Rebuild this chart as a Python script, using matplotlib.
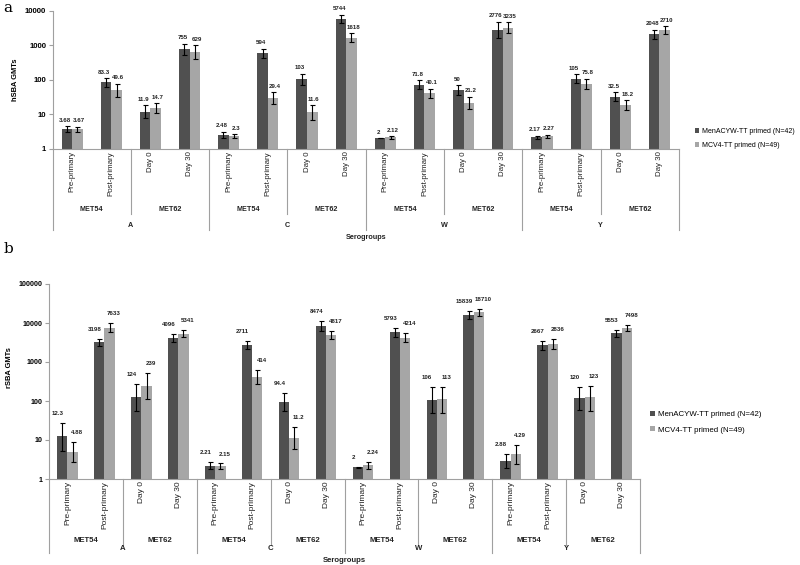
"""Two-panel bar chart of hSBA / rSBA GMTs by serogroup, study and timepoint."""

import matplotlib.pyplot as plt
import numpy as np
from matplotlib.patches import Patch
from matplotlib.ticker import NullLocator

plt.rcParams["font.family"] = ["Liberation Sans", "DejaVu Sans"]

SEROGROUPS = ["A", "C", "W", "Y"]
STUDIES = ["MET54", "MET62"]
TIMEPOINTS = ["Pre-primary", "Post-primary", "Day 0", "Day 30"]
LEGEND_LABELS = ["MenACYW-TT primed (N=42)", "MCV4-TT primed (N=49)"]

# order of each list: A pre, A post, A day0, A day30, C ..., W ..., Y ...
HSBA_MENACYW = [3.68, 83.3, 11.9, 755, 2.48, 594, 103, 5744, 2, 71.8, 50, 2776, 2.17, 105, 32.5, 2048]
HSBA_MENACYW_LO = [3.0, 62, 8, 520, 2.0, 440, 70, 4300, 2, 53, 37, 1600, 1.95, 78, 24, 1500]
HSBA_MENACYW_HI = [4.5, 110, 18, 1100, 3.1, 800, 150, 7700, 2, 97, 68, 4800, 2.4, 145, 43, 2800]
HSBA_MCV4 = [3.67, 49.6, 14.7, 629, 2.3, 29.4, 11.6, 1618, 2.12, 40.1, 21.2, 3235, 2.27, 75.8, 18.2, 2710]
HSBA_MCV4_LO = [3.1, 32, 10.5, 400, 2.1, 20, 7, 1200, 1.95, 29, 14, 2300, 2.1, 54, 13, 2100]
HSBA_MCV4_HI = [4.4, 76, 21, 990, 2.6, 43, 18, 2200, 2.3, 55, 32, 4600, 2.5, 105, 25, 3500]

RSBA_MENACYW = [12.3, 3198, 124, 4096, 2.21, 2711, 94.4, 8474, 2, 5793, 106, 15839, 2.88, 2667, 120, 5553]
RSBA_MENACYW_LO = [5.2, 2500, 55, 3200, 1.8, 2100, 55, 6300, 1.95, 4500, 50, 12500, 1.9, 2000, 60, 4500]
RSBA_MENACYW_HI = [28, 4000, 280, 5200, 2.7, 3500, 160, 11300, 2.05, 7500, 230, 20000, 4.4, 3500, 230, 6800]
RSBA_MCV4 = [4.88, 7633, 239, 5341, 2.15, 414, 11.2, 4817, 2.24, 4214, 113, 18710, 4.29, 2836, 123, 7498]
RSBA_MCV4_LO = [2.7, 5800, 110, 4300, 1.85, 280, 6, 3800, 1.8, 3200, 50, 15000, 2.4, 2100, 55, 6200]
RSBA_MCV4_HI = [8.8, 10000, 510, 6600, 2.5, 610, 21, 6100, 2.8, 5500, 230, 23500, 7.6, 3800, 240, 9000]

DARK = "#505050"
LIGHT = "#a6a6a6"
AXIS_GREY = "#a0a0a0"
TEXT = "#222222"
FIG_W, FIG_H = 800, 565


def _add_axes(fig, left, top, right, bottom):
    return fig.add_axes([left / FIG_W, 1 - bottom / FIG_H, (right - left) / FIG_W, (bottom - top) / FIG_H])


def draw_panel(ax, dark, dark_lo, dark_hi, light, light_lo, light_hi, ymax, ylabel, st):
    n = len(dark)
    x = np.arange(n)
    w = st["bar_w"]
    series = [
        (x - w / 2, dark, dark_lo, dark_hi, DARK, -st["nudge"]),
        (x + w / 2, light, light_lo, light_hi, LIGHT, st["nudge"]),
    ]
    for xs, vals, lo, hi, color, nudge in series:
        vals = np.asarray(vals, dtype=float)
        yerr = [vals - np.asarray(lo, dtype=float), np.asarray(hi, dtype=float) - vals]
        # log axis starts at 1, so bars are drawn from 1 up to the value
        ax.bar(xs, vals - 1, width=w, color=color, bottom=1, zorder=2)
        ax.errorbar(xs, vals, yerr=yerr, fmt="none", ecolor="black", elinewidth=0.8,
                    capsize=1.8, capthick=0.8, zorder=3)
        for xi, v, h in zip(xs, vals, hi):
            ax.annotate(f"{v:g}", xy=(xi, h), xytext=(nudge, st["label_off"]), textcoords="offset points",
                        ha="center", va="bottom", fontsize=st["val_fs"], fontweight="bold", color=TEXT)

    ax.set_yscale("log")
    ax.set_ylim(1, ymax)
    ticks = [10 ** k for k in range(int(np.log10(ymax)) + 1)]
    ax.set_yticks(ticks)
    ax.set_yticklabels([str(t) for t in ticks], fontsize=st["ytick_fs"], fontweight="bold")
    ax.yaxis.set_minor_locator(NullLocator())
    ax.tick_params(axis="y", length=3, width=0.8, color=AXIS_GREY, pad=1.5)
    ax.set_xlim(-0.5, n - 0.5)
    ax.set_xticks([])
    for side in ("top", "right"):
        ax.spines[side].set_visible(False)
    for side in ("left", "bottom"):
        ax.spines[side].set_color(AXIS_GREY)
        ax.spines[side].set_linewidth(0.8)
    ax.set_ylabel(ylabel, fontsize=st["ylab_fs"], fontweight="bold")
    ax.yaxis.set_label_coords(*st["ylab_xy"])

    h_px = st["h_px"]
    trans = ax.get_xaxis_transform()

    def frac(px):
        return -px / h_px

    # timepoint labels
    for i in range(n):
        ax.annotate(TIMEPOINTS[i % 4], xy=(i, 0), xycoords=("data", "axes fraction"),
                    xytext=(0, -st["tp_off"] * 0.72), textcoords="offset points",
                    rotation=90, ha="center", va="top", fontsize=st["tp_fs"], color=TEXT)
    # study labels and short separators
    for j in range(n // 2):
        ax.annotate(STUDIES[j % 2], xy=(2 * j + 0.5, 0), xycoords=("data", "axes fraction"),
                    xytext=(0, -st["study_off"] * 0.72), textcoords="offset points",
                    ha="center", va="center", fontsize=st["study_fs"], fontweight="bold", color=TEXT)
        if j % 2 == 1:
            xb = 2 * j - 0.5
            ax.plot([xb, xb], [0, frac(st["study_line"])], transform=trans, color=AXIS_GREY,
                    lw=0.8, clip_on=False)
    # serogroup labels and long separators
    for g, name in enumerate(SEROGROUPS):
        ax.annotate(name, xy=(4 * g + 1.5, 0), xycoords=("data", "axes fraction"),
                    xytext=(0, -st["group_off"] * 0.72), textcoords="offset points",
                    ha="center", va="center", fontsize=st["study_fs"], fontweight="bold", color=TEXT)
    for xb in range(-1, n + 1, 4):
        xb = xb + 0.5
        ax.plot([xb, xb], [0, frac(st["group_line"])], transform=trans, color=AXIS_GREY,
                lw=0.8, clip_on=False)
    ax.annotate("Serogroups", xy=(0.5, 0), xycoords="axes fraction",
                xytext=(0, -st["sero_off"] * 0.72), textcoords="offset points",
                ha="center", va="center", fontsize=st["study_fs"], fontweight="bold", color=TEXT)


def main():
    fig = plt.figure(figsize=(FIG_W / 100, FIG_H / 100), dpi=100)

    ax_a = _add_axes(fig, 52.5, 10.7, 679, 148.7)
    draw_panel(ax_a, HSBA_MENACYW, HSBA_MENACYW_LO, HSBA_MENACYW_HI,
               HSBA_MCV4, HSBA_MCV4_LO, HSBA_MCV4_HI, 10000, "hSBA GMTs",
               dict(bar_w=0.27, label_off=2.5, nudge=1.2, val_fs=4.4, ytick_fs=5.6, ylab_fs=5.4,
                    ylab_xy=((19 - 52.5) / 626.5, (148.7 - 80) / 138.0),
                    h_px=138.0, tp_off=2.5, tp_fs=5.7, study_off=61, study_fs=5.2, study_line=65,
                    group_off=77, group_line=81, sero_off=89))

    ax_b = _add_axes(fig, 49, 284, 640, 479)
    draw_panel(ax_b, RSBA_MENACYW, RSBA_MENACYW_LO, RSBA_MENACYW_HI,
               RSBA_MCV4, RSBA_MCV4_LO, RSBA_MCV4_HI, 100000, "rSBA GMTs",
               dict(bar_w=0.28, label_off=5, nudge=3.2, val_fs=4.4, ytick_fs=5.1, ylab_fs=5.4,
                    ylab_xy=((13 - 49) / 591.0, (479 - 368) / 195.0),
                    h_px=195.0, tp_off=2, tp_fs=6.0, study_off=61, study_fs=5.6, study_line=66,
                    group_off=70, group_line=74, sero_off=82))

    handles = [Patch(facecolor=DARK), Patch(facecolor=LIGHT)]
    fig.legend(handles, LEGEND_LABELS, loc="upper left", bbox_to_anchor=(695 / FIG_W, 1 - 128 / FIG_H),
               frameon=False, fontsize=5.0, handlelength=0.6, handleheight=0.6, handletextpad=0.4,
               labelspacing=1.0, borderpad=0, borderaxespad=0)
    fig.legend(handles, LEGEND_LABELS, loc="upper left", bbox_to_anchor=(650 / FIG_W, 1 - 411 / FIG_H),
               frameon=False, fontsize=5.7, handlelength=0.6, handleheight=0.6, handletextpad=0.4,
               labelspacing=1.0, borderpad=0, borderaxespad=0)

    fig.text(8 / FIG_W, 1 - 8 / FIG_H, "a", family="DejaVu Serif", fontsize=11, ha="center", va="center")
    fig.text(8 / FIG_W, 1 - 249 / FIG_H, "b", family="DejaVu Serif", fontsize=11, ha="center", va="center")

    fig.savefig("out.png", dpi=100)
    plt.close(fig)


if __name__ == "__main__":
    main()
